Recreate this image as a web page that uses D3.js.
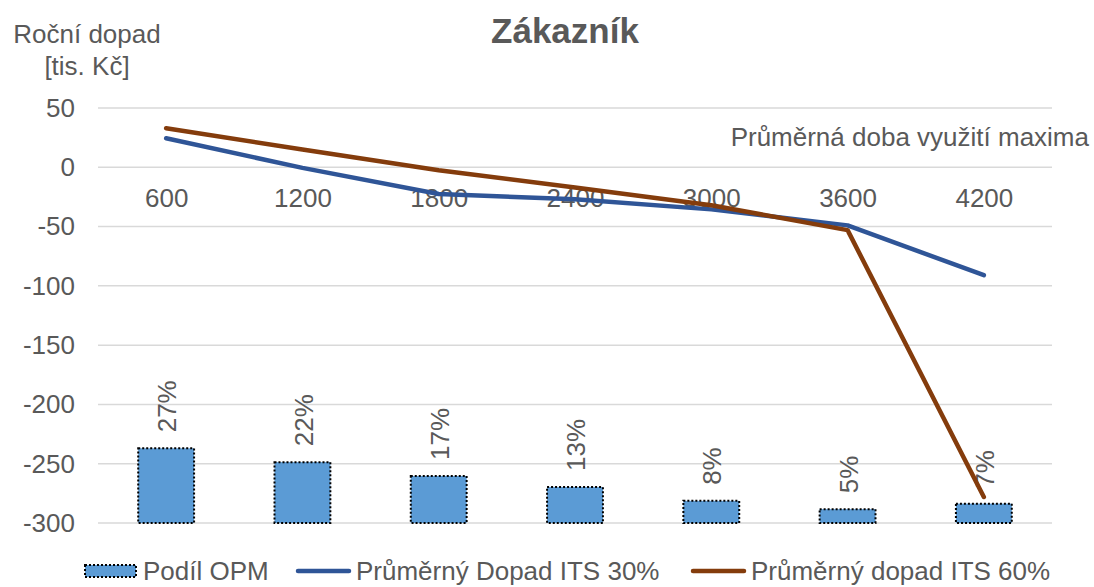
<!DOCTYPE html>
<html>
<head>
<meta charset="utf-8">
<script src="https://cdn.jsdelivr.net/npm/d3@7"></script>
<style>
  body { margin: 0; background: #fff; }
  text { font-family: "Liberation Sans", Arial, sans-serif; fill: #595959; }
</style>
</head>
<body>
<script>
// data
var categories = ["600", "1200", "1800", "2400", "3000", "3600", "4200"];
var podilOPM = [0.27, 0.22, 0.17, 0.13, 0.08, 0.05, 0.07];
var dopadITS30 = [24.5, -0.5, -22.5, -27, -35.5, -49, -91];
var dopadITS60 = [33, 15, -2.5, -17, -32, -53, -278];
var yTicks = [50, 0, -50, -100, -150, -200, -250, -300];

var outerWidth = 1094,
    outerHeight = 587,
    plotLeft = 98,
    plotRight = 1052,
    plotTop = 108,
    plotBottom = 523,
    fontSize = "26px";

var blue = "#2F5597",
    brown = "#843C0C",
    barFill = "#5B9BD5";

var svg = d3.select("body")
    .append("svg")
    .attr("width", outerWidth)
    .attr("height", outerHeight);

var x = d3.scaleBand()
    .domain(categories)
    .range([plotLeft, plotRight])
    .paddingInner(0.59)
    .paddingOuter(0.295);

var xc = d3.scalePoint()
    .domain(categories)
    .range([plotLeft, plotRight])
    .padding(0.5);

var y = d3.scaleLinear()
    .domain([-300, 50])
    .range([plotBottom, plotTop]);

// hidden secondary axis for the share bars
var y2 = d3.scaleLinear()
    .domain([0, 1.5])
    .range([plotBottom, plotTop]);

// gridlines
svg.append("g")
    .selectAll("line")
    .data(yTicks)
    .enter()
    .append("line")
    .attr("x1", plotLeft)
    .attr("x2", plotRight)
    .attr("y1", function(d) { return y(d); })
    .attr("y2", function(d) { return y(d); })
    .attr("stroke", "#D9D9D9")
    .attr("stroke-width", 1.5);

// y axis labels (plain hyphen minus like the original)
var yAxis = d3.axisLeft(y)
    .tickValues(yTicks)
    .tickFormat(function(d) { return String(d); })
    .tickSize(0)
    .tickPadding(0);
var gy = svg.append("g")
    .attr("transform", "translate(75,0)")
    .call(yAxis);
gy.select(".domain").remove();
gy.selectAll("text")
    .attr("font-size", fontSize)
    .attr("fill", "#595959")
    .style("font-family", "Liberation Sans, Arial, sans-serif");

// category labels sit just under the zero line
var xAxis = d3.axisBottom(xc).tickSize(0).tickPadding(0);
var gx = svg.append("g")
    .attr("transform", "translate(0," + y(0) + ")")
    .call(xAxis);
gx.select(".domain").remove();
gx.selectAll("text")
    .attr("dy", null)
    .attr("y", 40)
    .attr("font-size", fontSize)
    .attr("fill", "#595959")
    .style("font-family", "Liberation Sans, Arial, sans-serif");

// bars
svg.selectAll(".bar")
    .data(podilOPM)
    .enter()
    .append("rect")
    .attr("class", "bar")
    .attr("x", function(d, i) { return x(categories[i]); })
    .attr("width", x.bandwidth())
    .attr("y", function(d) { return y2(d); })
    .attr("height", function(d) { return plotBottom - y2(d); })
    .attr("fill", barFill)
    .attr("stroke", "#000")
    .attr("stroke-width", 2)
    .attr("stroke-dasharray", "2,2");

// bar labels
svg.selectAll(".barlabel")
    .data(podilOPM)
    .enter()
    .append("text")
    .attr("class", "barlabel")
    .attr("transform", function(d, i) {
        return "translate(" + (xc(categories[i]) + 1) + "," + (y2(d) - 16) + ") rotate(-90)";
    })
    .attr("dy", "0.35em")
    .attr("font-size", fontSize)
    .text(function(d) { return Math.round(d * 100) + "%"; });

// lines
var line = d3.line()
    .x(function(d, i) { return xc(categories[i]); })
    .y(function(d) { return y(d); });

svg.append("path")
    .datum(dopadITS30)
    .attr("d", line)
    .attr("fill", "none")
    .attr("stroke", blue)
    .attr("stroke-width", 4.5)
    .attr("stroke-linecap", "round")
    .attr("stroke-linejoin", "round");

svg.append("path")
    .datum(dopadITS60)
    .attr("d", line)
    .attr("fill", "none")
    .attr("stroke", brown)
    .attr("stroke-width", 4.5)
    .attr("stroke-linecap", "round")
    .attr("stroke-linejoin", "round");

// title
svg.append("text")
    .attr("x", 565)
    .attr("y", 43)
    .attr("text-anchor", "middle")
    .attr("font-size", "35px")
    .attr("font-weight", "700")
    .text("Zákazník");

// y axis title
svg.append("text")
    .attr("x", 87)
    .attr("y", 43)
    .attr("text-anchor", "middle")
    .attr("font-size", fontSize)
    .text("Roční dopad");
svg.append("text")
    .attr("x", 87)
    .attr("y", 75)
    .attr("text-anchor", "middle")
    .attr("font-size", fontSize)
    .text("[tis. Kč]");

// x axis title
svg.append("text")
    .attr("x", 1089)
    .attr("y", 146)
    .attr("text-anchor", "end")
    .attr("font-size", fontSize)
    .text("Průměrná doba využití maxima");

// legend
var legend = svg.append("g").attr("transform", "translate(0,571)");

legend.append("rect")
    .attr("x", 85)
    .attr("y", -6)
    .attr("width", 51)
    .attr("height", 12)
    .attr("fill", barFill)
    .attr("stroke", "#000")
    .attr("stroke-width", 2)
    .attr("stroke-dasharray", "2,2");
legend.append("text")
    .attr("x", 143)
    .attr("dy", "0.35em")
    .attr("font-size", fontSize)
    .text("Podíl OPM");

legend.append("line")
    .attr("x1", 298).attr("x2", 349)
    .attr("stroke", blue)
    .attr("stroke-width", 4.5)
    .attr("stroke-linecap", "round");
legend.append("text")
    .attr("x", 356)
    .attr("dy", "0.35em")
    .attr("font-size", fontSize)
    .text("Průměrný Dopad ITS 30%");

legend.append("line")
    .attr("x1", 693).attr("x2", 744)
    .attr("stroke", brown)
    .attr("stroke-width", 4.5)
    .attr("stroke-linecap", "round");
legend.append("text")
    .attr("x", 751)
    .attr("dy", "0.35em")
    .attr("font-size", fontSize)
    .text("Průměrný dopad ITS 60%");
</script>
</body>
</html>
